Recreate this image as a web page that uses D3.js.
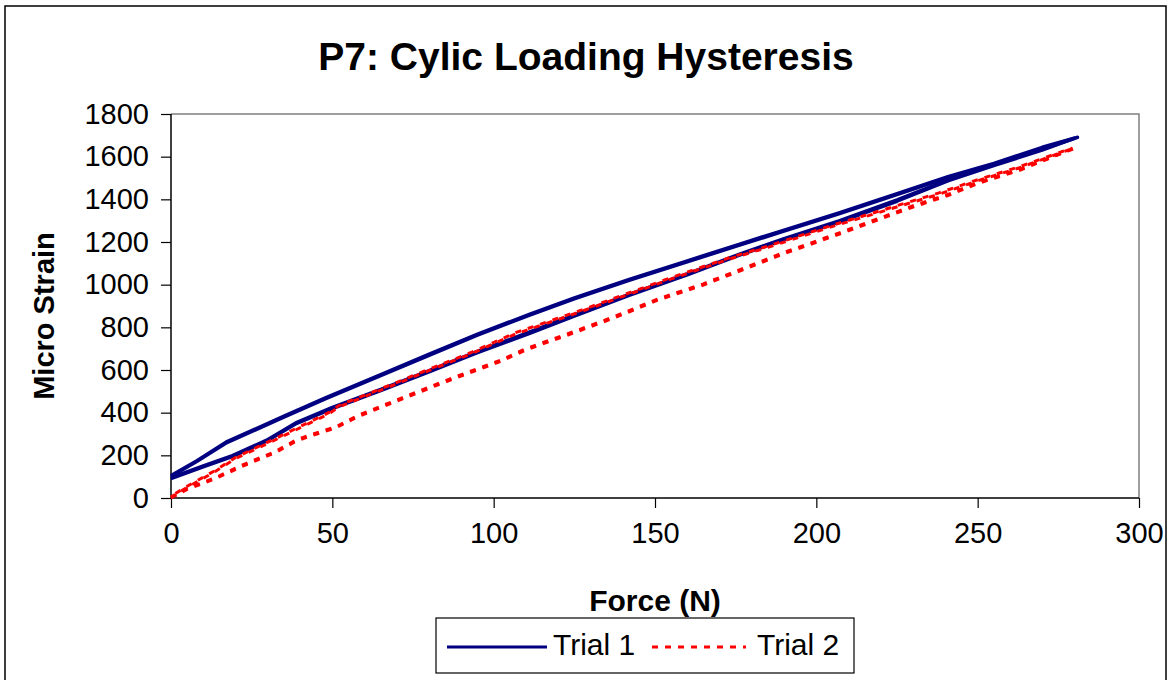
<!DOCTYPE html>
<html>
<head>
<meta charset="utf-8">
<script src="https://cdn.jsdelivr.net/npm/d3@7"></script>
<style>
  body { margin: 0; background: #fff; }
  svg text { font-family: Arial, "Liberation Sans", sans-serif; fill: #000; }
</style>
</head>
<body>
<svg id="chart"></svg>
<script>
let width = 1172;
let height = 680;

// ticks
let forceTicks = [0, 50, 100, 150, 200, 250, 300];
let strainTicks = [0, 200, 400, 600, 800, 1000, 1200, 1400, 1600, 1800];

// Trial 1 - [force N, micro strain], loading then unloading, two cycles
let trial1CycleA = [[0,90],[10,145],[19,193],[30,268],[39,349],[50,418],[65,502],[80,590],[95,680],[111,770],[125,852],[142,949],[160,1045],[176,1136],[190,1210],[207,1292],[225,1390],[241,1487],[255,1557],[270,1630],[280,1685],
                    [280,1688],[270,1640],[255,1565],[241,1502],[225,1421],[207,1331],[190,1250],[176,1183],[160,1106],[142,1019],[125,932],[111,855],[95,762],[80,668],[65,572],[48,465],[35,378],[17,256],[8,170],[0,100]];
let trial1CycleB = [[0,96],[10,152],[19,200],[30,275],[39,356],[50,426],[65,510],[80,598],[95,688],[111,778],[125,860],[142,956],[160,1052],[176,1143],[190,1217],[207,1300],[225,1398],[241,1493],[255,1562],[270,1634],[281,1690],
                    [281,1692],[270,1645],[255,1570],[241,1508],[225,1428],[207,1338],[190,1257],[176,1190],[160,1113],[142,1026],[125,939],[111,862],[95,769],[80,676],[65,580],[48,472],[35,385],[17,263],[8,176],[0,106]];

// Trial 2
let trial2CycleA = [[0,3],[5,45],[14,97],[22,154],[32,216],[39,274],[46,310],[51,333],[58,388],[71,466],[84,544],[92,590],[102,645],[110,700],[123,770],[137,848],[151,934],[165,1004],[173,1051],[190,1151],[209,1253],[230,1370],[241,1424],[250,1479],[263,1541],[280,1638],
                    [280,1642],[263,1548],[250,1487],[238,1424],[221,1346],[204,1268],[185,1175],[173,1120],[155,1027],[128,879],[119,832],[107,770],[93,676],[80,598],[70,536],[52,427],[49,395],[31,263],[20,185],[13,118],[5,50],[0,5]];
let trial2CycleB = [[0,0],[5,40],[14,92],[22,148],[32,210],[39,268],[46,304],[51,328],[58,382],[71,460],[84,538],[92,584],[102,639],[110,694],[123,764],[137,842],[151,928],[165,998],[173,1045],[190,1145],[209,1247],[230,1364],[241,1419],[250,1474],[263,1536],[279,1634],
                    [279,1639],[263,1553],[250,1492],[238,1430],[221,1352],[204,1274],[185,1181],[173,1126],[155,1033],[128,885],[119,838],[107,776],[93,682],[80,604],[70,542],[52,433],[49,401],[31,269],[20,190],[13,123],[5,55],[0,8]];

let series = [
  {name: "Trial 1", cycles: [trial1CycleA, trial1CycleB], colour: "#000080", dash: null},
  {name: "Trial 2", cycles: [trial2CycleA, trial2CycleB], colour: "#ff0000", dash: "6,7"}
];

let margin = {left: 171, right: 1139, top: 114, bottom: 498};

let svg = d3.select("#chart")
  .attr("width", width)
  .attr("height", height);

// outer chart border
svg.append("rect")
  .attr("x", 5).attr("y", 6)
  .attr("width", 1161).attr("height", 690)
  .attr("fill", "#fff")
  .attr("stroke", "#000")
  .attr("stroke-width", 1.5);

let x = d3.scaleLinear().domain([0, 300]).range([margin.left, margin.right]);
let y = d3.scaleLinear().domain([0, 1800]).range([margin.bottom, margin.top]);

// plot area frame (top / right in gray)
svg.append("path")
  .attr("d", `M${margin.left},${margin.top}H${margin.right}V${margin.bottom}`)
  .attr("fill", "none")
  .attr("stroke", "#808080")
  .attr("stroke-width", 1.5);

// title
svg.append("text")
  .attr("x", 586)
  .attr("y", 70)
  .attr("text-anchor", "middle")
  .style("font-size", "39px")
  .style("font-weight", "bold")
  .text("P7: Cylic Loading Hysteresis");

// axes
let yAxis = svg.append("g")
  .attr("transform", `translate(${margin.left},0)`)
  .call(d3.axisLeft(y).tickValues(strainTicks).tickSize(10).tickPadding(12).tickFormat(d3.format("d")));

let xAxis = svg.append("g")
  .attr("transform", `translate(0,${margin.bottom})`)
  .call(d3.axisBottom(x).tickValues(forceTicks).tickSize(10).tickPadding(14).tickFormat(d3.format("d")));

[xAxis, yAxis].forEach(a => {
  a.select(".domain").attr("stroke", "#000").attr("stroke-width", 1.5);
  a.selectAll(".tick line").attr("stroke", "#000").attr("stroke-width", 1.2);
  a.selectAll(".tick text")
    .style("font-size", "29px")
    .style("font-family", "Arial, 'Liberation Sans', sans-serif");
});
// plain domain lines, no outer stubs
yAxis.select(".domain").attr("d", `M0,${margin.top}V${margin.bottom}`);
xAxis.select(".domain").attr("d", `M${margin.left},0H${margin.right}`);

// axis titles
svg.append("text")
  .attr("x", 655)
  .attr("y", 611)
  .attr("text-anchor", "middle")
  .style("font-size", "30px")
  .style("font-weight", "bold")
  .text("Force (N)");

svg.append("text")
  .attr("transform", "translate(54,316) rotate(-90)")
  .attr("text-anchor", "middle")
  .style("font-size", "29px")
  .style("font-weight", "bold")
  .text("Micro Strain");

// lines
let line = d3.line()
  .x(d => x(d[0]))
  .y(d => y(d[1]));

series.forEach(s => {
  svg.append("g")
    .selectAll("path")
    .data(s.cycles)
    .enter()
    .append("path")
      .attr("d", line)
      .attr("fill", "none")
      .attr("stroke", s.colour)
      .attr("stroke-width", 3)
      .attr("stroke-linejoin", "round")
      .attr("stroke-dasharray", s.dash);
});

// legend
let legend = svg.append("g");
legend.append("rect")
  .attr("x", 436).attr("y", 618)
  .attr("width", 418).attr("height", 55)
  .attr("fill", "#fff")
  .attr("stroke", "#000")
  .attr("stroke-width", 1.2);

let legendItems = [{x1: 447, x2: 547, tx: 553}, {x1: 652, x2: 746, tx: 757}];
legend.selectAll(".item")
  .data(series)
  .enter()
  .append("g")
  .each(function(d, i) {
    let g = d3.select(this);
    let pos = legendItems[i];
    g.append("line")
      .attr("x1", pos.x1).attr("x2", pos.x2)
      .attr("y1", 647).attr("y2", 647)
      .attr("stroke", d.colour)
      .attr("stroke-width", 3)
      .attr("stroke-dasharray", d.dash);
    g.append("text")
      .attr("x", pos.tx)
      .attr("y", 655)
      .style("font-size", "30px")
      .text(d.name);
  });
</script>
</body>
</html>
